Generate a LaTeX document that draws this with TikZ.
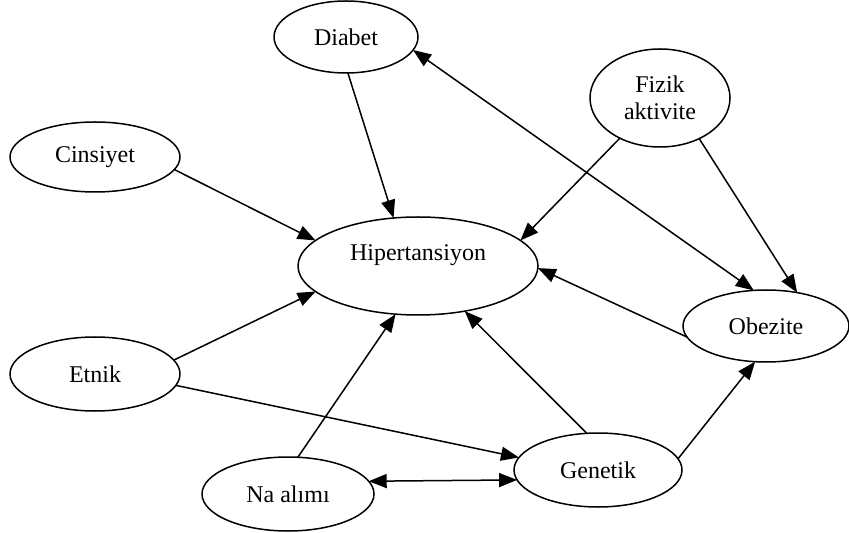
\documentclass[tikz,border=0pt]{standalone}
\usepackage{fontspec}
\setmainfont{Liberation Serif}
\usetikzlibrary{arrows.meta,shapes.geometric}

\begin{document}
\begin{tikzpicture}[x=0.5pt, y=-0.5pt, line cap=round, line join=round,
		factor/.style={draw, ellipse, line width=0.75pt, inner sep=0pt, outer sep=0pt, font=\fontsize{12}{13.5}\selectfont},
		link/.style={line width=0.75pt, -{Triangle[length=9pt,width=7pt]}},
		mutual/.style={line width=0.75pt, {Triangle[length=9pt,width=7pt]}-{Triangle[length=9pt,width=7pt]}}]
		\useasboundingbox (0,0) rectangle (849,533);
		% ovals
		\node[factor, minimum width=72pt, minimum height=36pt] (diab) at (346,37) {Diabet};
		\node[factor, minimum width=70pt, minimum height=49pt, align=center] (fizik) at (660,98) {Fizik\\aktivite};
		\node[factor, minimum width=85pt, minimum height=35pt] (cins) at (95,157) {Cinsiyet};
		\node[factor, minimum width=120pt, minimum height=49pt, text height=8.5pt, text depth=13.5pt] (hip) at (418,266) {Hipertansiyon};
		\node[factor, minimum width=83pt, minimum height=36pt] (obez) at (766,326) {Obezite};
		\node[factor, minimum width=85pt, minimum height=37pt] (etnik) at (95,374) {Etnik};
		\node[factor, minimum width=84pt, minimum height=37pt] (gen) at (598,470) {Genetik};
		\node[factor, minimum width=86pt, minimum height=37pt] (na) at (288,494) {Na alımı};
		% arrows into Hipertansiyon
		\draw[link] (diab.-87) -- (hip.117);
		\draw[link] (cins.-9) -- (hip.166);
		\draw[link] (fizik.225) -- (hip.14);
		\draw[link] (obez.188) -- (hip.-1);
		\draw[link] (etnik.10) -- (hip.194);
		\draw[link] (na.75) -- (hip.245);
		\draw[link] (gen.107) -- (hip.-44);
		% other arrows
		\draw[link] (fizik.-46) -- (obez.47);
		\draw[link] (etnik.-8) -- (gen.171);
		\draw[link] (gen.8) -- (obez.-107);
		\draw[mutual] (diab.-11) -- (obez.109);
		\draw[mutual] (na.9) -- (gen.187);
	\end{tikzpicture}
\end{document}
